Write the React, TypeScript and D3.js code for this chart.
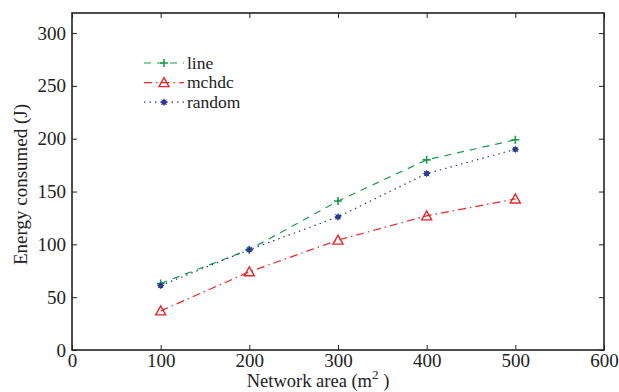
import * as d3 from 'd3';
import { useEffect, useRef } from 'react';

const areas = [100, 200, 300, 400, 500];
const lineEnergy = [63, 95, 141, 180, 199];
const mchdcEnergy = [37, 74, 104, 127, 143];
const randomEnergy = [61, 95, 126, 167, 190];
const xTicks = [0, 100, 200, 300, 400, 500, 600];
const yTicks = [0, 50, 100, 150, 200, 250, 300];

const series = [
  { name: 'line', values: lineEnergy, color: '#1a9a4a', dash: '7,6', marker: 'plus' },
  { name: 'mchdc', values: mchdcEnergy, color: '#e8262b', dash: '8,4,1.5,4', marker: 'triangle' },
  { name: 'random', values: randomEnergy, color: '#2e3a8f', dash: '1.5,4', marker: 'star' }
];

export default function App() {
  const ref = useRef<SVGSVGElement | null>(null);

  useEffect(() => {
    const svg = d3.select(ref.current);
    svg.selectAll('*').remove();
    const width = 619;
    const height = 392;
    const margin = { top: 13, right: 15, bottom: 42, left: 72 };
    const innerW = width - margin.left - margin.right;
    const innerH = height - margin.top - margin.bottom;
    const g = svg.append('g').attr('transform', `translate(${margin.left},${margin.top})`);

    const x = d3.scaleLinear().domain([0, 600]).range([0, innerW]);
    const y = d3.scaleLinear().domain([0, 319]).range([innerH, 0]);

    // inward ticks on all four sides, matlab style
    const tick = 5;
    const styleAxis = (sel: d3.Selection<SVGGElement, unknown, null, undefined>) => {
      sel.attr('font-family', null).attr('font-size', null);
      sel.select('.domain').remove();
      sel.selectAll('line').attr('stroke', '#222').attr('stroke-width', 1);
      sel.selectAll('text').attr('fill', '#222');
    };
    g.append('g').attr('transform', `translate(0,${innerH})`)
      .call(d3.axisBottom(x).tickValues(xTicks).tickSizeInner(-tick).tickSizeOuter(0).tickPadding(3))
      .call(styleAxis);
    g.append('g')
      .call(d3.axisLeft(y).tickValues(yTicks).tickSizeInner(-tick).tickSizeOuter(0).tickPadding(6))
      .call(styleAxis);
    g.append('g')
      .call(d3.axisTop(x).tickValues(xTicks).tickSizeInner(-tick).tickSizeOuter(0).tickFormat(() => ''))
      .call(styleAxis);
    g.append('g').attr('transform', `translate(${innerW},0)`)
      .call(d3.axisRight(y).tickValues(yTicks).tickSizeInner(-tick).tickSizeOuter(0).tickFormat(() => ''))
      .call(styleAxis);

    g.append('rect').attr('width', innerW).attr('height', innerH)
      .attr('fill', 'none').attr('stroke', '#222').attr('stroke-width', 1.6);

    const line = d3.line<number>().x((_, i) => x(areas[i])).y((d) => y(d));

    const drawMarker = (sel: d3.Selection<SVGGElement, unknown, null, undefined>, kind: string, color: string) => {
      if (kind === 'plus') {
        sel.append('path').attr('d', 'M-4,0H4M0,-4V4').attr('stroke', color).attr('stroke-width', 1.6);
      } else if (kind === 'triangle') {
        sel.append('path').attr('d', 'M0,-5L5,4H-5Z').attr('fill', 'none').attr('stroke', color).attr('stroke-width', 1.4);
      } else {
        sel.append('circle').attr('r', 2.6).attr('fill', color);
        sel.append('path').attr('d', 'M-3.5,0H3.5M0,-3.5V3.5M-2.6,-2.6L2.6,2.6M-2.6,2.6L2.6,-2.6').attr('stroke', color).attr('stroke-width', 1);
      }
    };

    series.forEach((s) => {
      g.append('path').datum(s.values).attr('d', line)
        .attr('fill', 'none').attr('stroke', s.color).attr('stroke-width', 1.2)
        .attr('stroke-dasharray', s.dash);
      s.values.forEach((v, i) => {
        const m = g.append('g').attr('transform', `translate(${x(areas[i])},${y(v)})`);
        drawMarker(m, s.marker, s.color);
      });
    });

    // legend
    const leg = g.append('g').attr('transform', 'translate(72,50)').style('font-size', '17.5px');
    series.forEach((s, i) => {
      const row = leg.append('g').attr('transform', `translate(0,${i * 19.6})`);
      row.append('line').attr('x1', 0).attr('x2', 40).attr('y1', 0).attr('y2', 0)
        .attr('stroke', s.color).attr('stroke-width', 1.2).attr('stroke-dasharray', s.dash);
      const m = row.append('g').attr('transform', 'translate(20,0)');
      drawMarker(m, s.marker, s.color);
      row.append('text').attr('x', 43).attr('y', 5.5).attr('fill', '#222').text(s.name);
    });

    // axis titles
    const xt = svg.append('text').attr('x', 318).attr('y', 386.5)
      .attr('text-anchor', 'middle').attr('fill', '#222').style('font-size', '18.5px');
    xt.append('tspan').text('Network area (m');
    xt.append('tspan').attr('dy', -8).style('font-size', '13px').text('2');
    xt.append('tspan').attr('dy', 8).text(' )');

    svg.append('text').attr('transform', `translate(27,${margin.top + innerH / 2 + 3}) rotate(-90)`)
      .attr('text-anchor', 'middle').attr('fill', '#222')
      .text('Energy consumed (J)');
  }, []);

  return (
    <svg
      ref={ref}
      width={619}
      height={392}
      style={{ position: 'absolute', left: 0, top: 0, background: '#fff', fontFamily: 'Liberation Serif', fontSize: 19 }}
    />
  );
}
